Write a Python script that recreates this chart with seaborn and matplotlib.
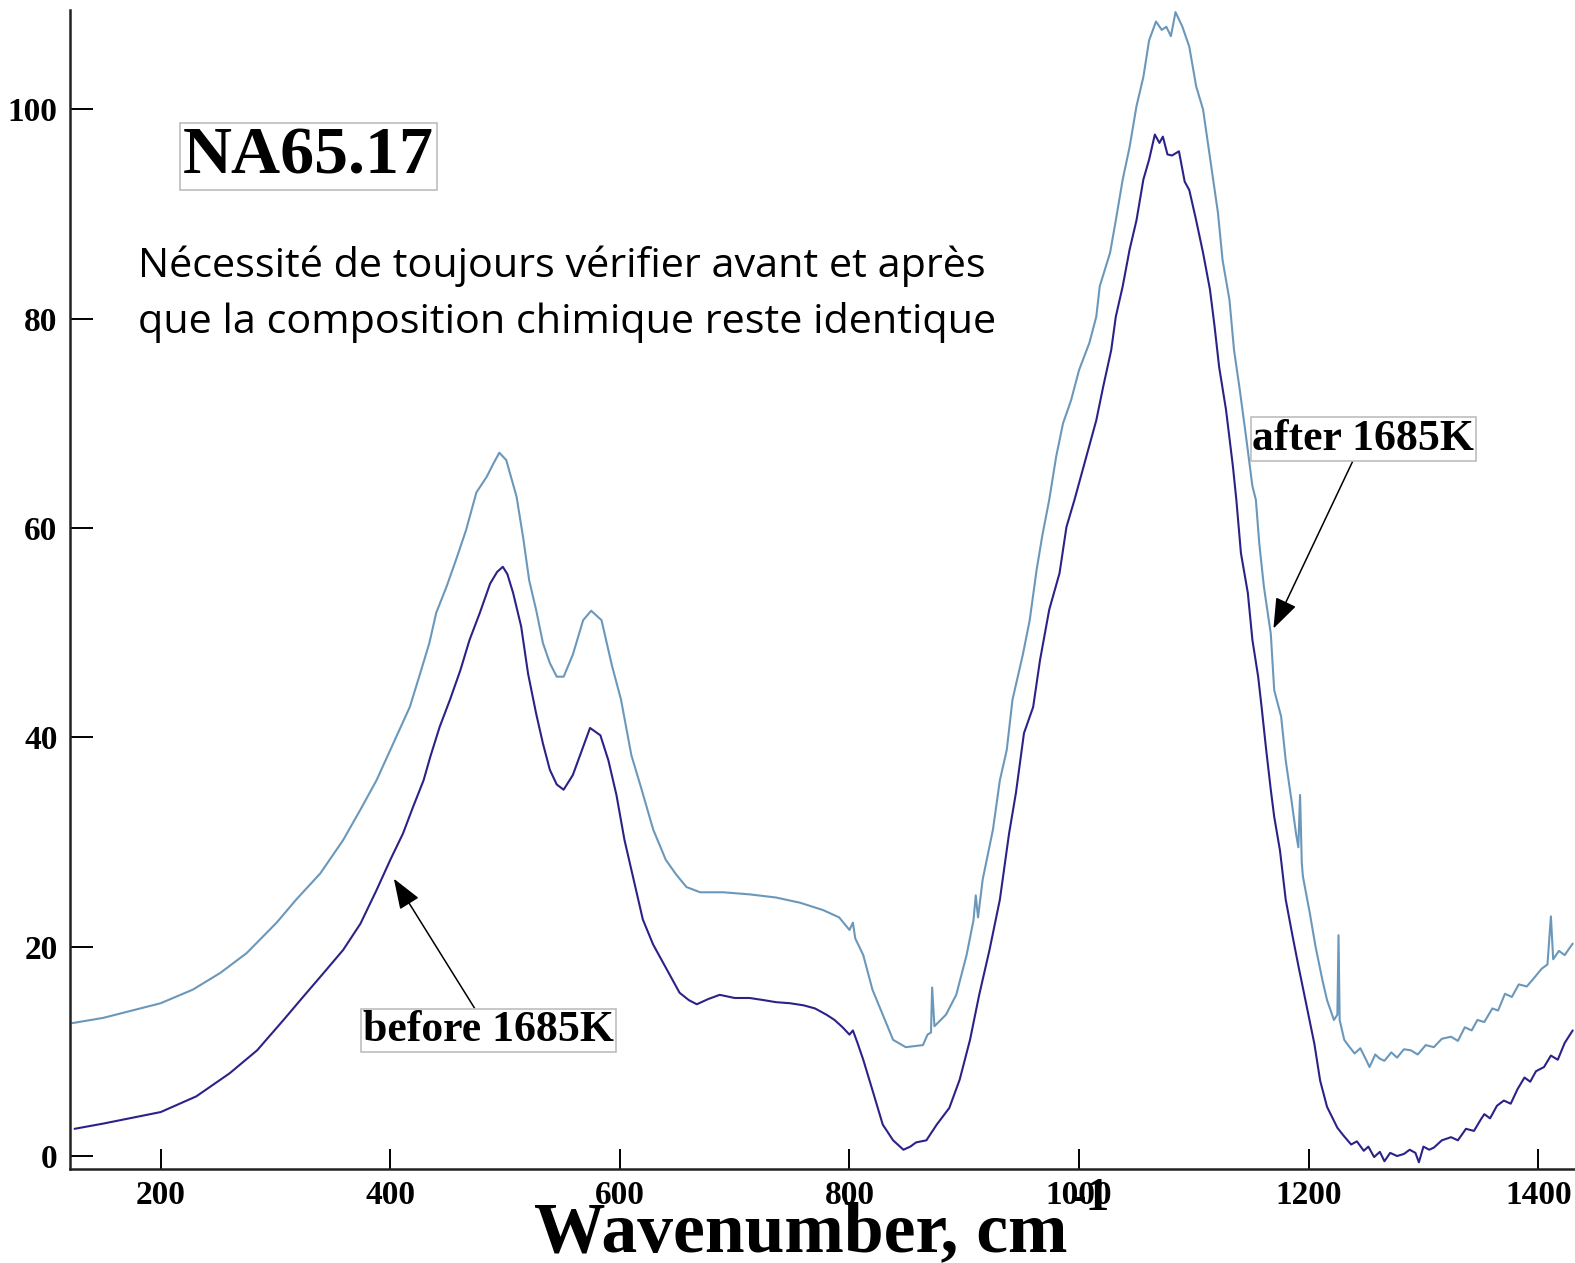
import numpy as np
import pandas as pd
import matplotlib
matplotlib.use("Agg")
import matplotlib.pyplot as plt
import seaborn as sns

# ---------------- data ----------------
wn_after = [123, 150, 200, 228, 252, 275, 301, 318, 339, 359, 374, 388, 405, 417, 426,
            434, 440, 449, 458, 466, 475, 484, 490, 495, 501, 510, 516, 521, 527, 533,
            539, 545, 551, 559, 568, 575, 584, 593, 601, 610, 619, 629, 640, 649, 658,
            670, 690, 713, 736, 757, 777, 791, 800, 803, 805, 812, 820, 829, 838, 849,
            864, 868, 871, 872, 874, 884, 893, 902, 908, 910, 912, 916, 925, 931, 937,
            942, 951, 957, 963, 968, 974, 980, 986, 993, 1000, 1009, 1015, 1018, 1027, 1032,
            1038, 1044, 1050, 1056, 1061, 1067, 1072, 1076, 1080, 1084, 1090, 1096, 1102, 1108, 1111,
            1116, 1121, 1125, 1131, 1135, 1140, 1145, 1151, 1154, 1157, 1161, 1167, 1170, 1176, 1180,
            1185, 1189, 1191, 1192.5, 1194, 1195, 1201, 1206, 1212, 1216, 1222, 1225, 1226, 1227, 1231,
            1235, 1240, 1245, 1250, 1253, 1258, 1262, 1266, 1272, 1277, 1283, 1289, 1295, 1302, 1309,
            1316, 1324, 1330, 1336, 1342, 1347, 1353, 1360, 1365, 1371, 1377, 1383, 1390, 1397, 1403,
            1408, 1411, 1413, 1418, 1423, 1430]
ab_after = [12.7, 13.2, 14.6, 15.9, 17.5, 19.4, 22.3, 24.5, 27.0, 30.2, 33.1, 35.9, 40.0, 42.9, 46.1,
            49.0, 51.9, 54.4, 57.2, 59.8, 63.4, 64.9, 66.2, 67.2, 66.5, 63.0, 58.9, 55.0, 52.2, 49.0,
            47.1, 45.8, 45.8, 47.9, 51.2, 52.1, 51.2, 46.9, 43.6, 38.3, 35.0, 31.2, 28.3, 26.9, 25.7,
            25.2, 25.2, 25.0, 24.7, 24.2, 23.5, 22.8, 21.6, 22.3, 20.8, 19.2, 15.9, 13.5, 11.1, 10.4,
            10.6, 11.6, 11.8, 16.1, 12.4, 13.5, 15.4, 19.2, 22.5, 24.9, 22.8, 26.4, 31.2, 35.9, 38.8,
            43.6, 47.9, 51.2, 56.0, 59.3, 62.7, 66.8, 70.0, 72.2, 75.1, 77.7, 80.2, 83.1, 86.3, 89.4,
            93.3, 96.4, 100.3, 103.1, 106.6, 108.4, 107.6, 107.9, 107.0, 109.3, 107.9, 106.0, 102.2, 100.0, 97.7,
            93.9, 90.1, 85.6, 81.8, 77.0, 73.2, 69.1, 64.0, 62.7, 58.5, 54.4, 49.9, 44.5, 42.0, 37.8,
            34.0, 30.8, 29.5, 34.5, 28.0, 26.7, 23.2, 20.0, 16.8, 14.9, 13.0, 13.5, 21.1, 13.0, 11.1,
            10.5, 9.8, 10.3, 9.2, 8.5, 9.7, 9.3, 9.1, 9.9, 9.4, 10.2, 10.1, 9.7, 10.6, 10.4,
            11.2, 11.4, 11.0, 12.3, 12.0, 13.0, 12.8, 14.1, 13.9, 15.5, 15.2, 16.4, 16.2, 17.1, 17.9,
            18.3, 22.9, 18.8, 19.6, 19.2, 20.3]

wn_before = [125, 150, 200, 231, 260, 284, 307, 324, 342, 359, 374, 388, 400, 411, 420,
             429, 435, 443, 452, 461, 469, 478, 487, 493, 498, 502, 507, 514, 520, 527,
             533, 539, 545, 551, 559, 567, 574, 583, 590, 597, 604, 612, 620, 629, 641,
             652, 660, 667, 677, 687, 700, 713, 725, 736, 748, 760, 770, 780, 787, 794,
             800, 803, 807, 812, 820, 829, 838, 847, 853, 858, 867, 876, 887, 896, 905,
             913, 922, 931, 939, 945, 952, 960, 966, 974, 983, 989, 996, 1008, 1015, 1021,
             1028, 1032, 1038, 1044, 1050, 1056, 1061, 1066, 1070, 1073, 1077, 1081, 1087, 1092, 1096,
             1102, 1108, 1114, 1118, 1122, 1128, 1134, 1137, 1141, 1147, 1151, 1156, 1159, 1163, 1167,
             1170, 1175, 1180, 1186, 1191, 1199, 1205, 1210, 1216, 1221, 1225, 1230, 1237, 1242, 1248,
             1252, 1257, 1262, 1266, 1271, 1277, 1283, 1288, 1293, 1296, 1300, 1305, 1309, 1316, 1324,
             1330, 1337, 1344, 1350, 1353, 1358, 1364, 1370, 1376, 1382, 1388, 1393, 1398, 1405, 1411,
             1417, 1423, 1430]
ab_before = [2.6, 3.1, 4.2, 5.7, 7.9, 10.1, 13.0, 15.2, 17.5, 19.7, 22.2, 25.4, 28.3, 30.8, 33.4,
             35.9, 38.2, 41.0, 43.6, 46.4, 49.3, 51.9, 54.7, 55.8, 56.3, 55.6, 53.8, 50.6, 46.1, 42.3,
             39.4, 36.9, 35.5, 35.0, 36.4, 38.8, 40.9, 40.2, 37.8, 34.5, 30.2, 26.4, 22.6, 20.2, 17.8,
             15.6, 14.9, 14.5, 15.0, 15.4, 15.1, 15.1, 14.9, 14.7, 14.6, 14.4, 14.1, 13.5, 13.0, 12.3,
             11.6, 12.0, 10.8, 9.2, 6.3, 3.0, 1.5, 0.6, 0.9, 1.3, 1.5, 3.0, 4.6, 7.3, 11.1,
             15.4, 19.7, 24.5, 30.8, 34.7, 40.4, 42.9, 47.4, 52.2, 55.7, 60.1, 62.7, 67.5, 70.3, 73.5,
             77.0, 80.2, 83.1, 86.6, 89.4, 93.3, 95.2, 97.6, 96.8, 97.4, 95.7, 95.6, 96.0, 93.1, 92.3,
             89.4, 86.3, 82.8, 79.3, 75.4, 71.3, 65.9, 62.7, 57.6, 53.8, 49.3, 45.8, 42.9, 38.8, 35.0,
             32.4, 29.2, 24.5, 21.0, 18.2, 13.9, 10.7, 7.2, 4.7, 3.6, 2.7, 2.0, 1.1, 1.4, 0.5,
             0.9, -0.1, 0.4, -0.5, 0.3, 0.0, 0.2, 0.6, 0.3, -0.6, 0.9, 0.6, 0.8, 1.5, 1.8,
             1.5, 2.6, 2.4, 3.5, 4.0, 3.6, 4.8, 5.3, 5.0, 6.4, 7.5, 7.1, 8.1, 8.5, 9.6,
             9.2, 10.8, 12.0]

x_ticks = [200, 400, 600, 800, 1000, 1200, 1400]
y_ticks = [0, 20, 40, 60, 80, 100]

sample_name = "NA65.17"
note_lines = ["Nécessité de toujours vérifier avant et après",
              "que la composition chimique reste identique"]
label_after = "after 1685K"
label_before = "before 1685K"
x_label = "Wavenumber, cm"
x_label_sup = "-1"

# ---------------- figure ----------------
sns.set_style("ticks")
plt.rcParams["font.family"] = ["Liberation Serif", "DejaVu Serif"]
plt.rcParams["text.color"] = "black"
plt.rcParams["axes.labelcolor"] = "black"
plt.rcParams["xtick.color"] = "black"
plt.rcParams["ytick.color"] = "black"

W, H = 1575, 1263
fig = plt.figure(figsize=(W / 100, H / 100), dpi=100)
ax = fig.add_axes([70 / W, (H - 1169) / H, (W - 70) / W, (1169 - 10) / H])

df_a = pd.DataFrame({"wn": wn_after, "ab": ab_after})
df_b = pd.DataFrame({"wn": wn_before, "ab": ab_before})
sns.lineplot(data=df_a, x="wn", y="ab", ax=ax, color="#6b98ba", lw=1.5,
             sort=False, estimator=None)
sns.lineplot(data=df_b, x="wn", y="ab", ax=ax, color="#2b2288", lw=1.5,
             sort=False, estimator=None)

ax.set_xlim(121, 1432)
ax.set_ylim(-1.24, 109.5)
ax.set_xticks(x_ticks)
ax.set_yticks(y_ticks)
ax.set_xlabel("")
ax.set_ylabel("")
for s in ["top", "right"]:
    ax.spines[s].set_visible(False)
for s in ["left", "bottom"]:
    ax.spines[s].set_linewidth(1.8)
    ax.spines[s].set_color("#222222")
ax.tick_params(axis="y", direction="in", length=16.5, width=1.4, pad=9,
               labelsize=24, colors="black")
ax.tick_params(axis="x", direction="in", length=14.5, width=1.4, pad=8,
               labelsize=24, colors="black")
for lab in ax.get_xticklabels() + ax.get_yticklabels():
    lab.set_fontweight("bold")

# x label with superscript
fig.text(801 / W, 1 - 1251 / H, x_label, ha="center", va="baseline",
         fontsize=51.5, fontweight="bold")
fig.text(1090 / W, 1 - 1199 / H, x_label_sup, ha="center", va="center",
         fontsize=34, fontweight="bold")

# sample name in a box
fig.text(183 / W, 1 - 173 / H, sample_name, ha="left", va="baseline",
         fontsize=49, fontweight="bold",
         bbox=dict(boxstyle="square,pad=0.04", fc="white", ec="#bdbdbd", lw=1.2))

# French note
note_font = ["Open Sans", "DejaVu Sans"]
fig.text(138 / W, 1 - 277 / H, note_lines[0], ha="left", va="baseline",
         fontsize=29.8, family=note_font, color="black")
fig.text(138 / W, 1 - 333 / H, note_lines[1], ha="left", va="baseline",
         fontsize=29.8, family=note_font, color="black")

# annotations
box_kw = dict(boxstyle="square,pad=0.04", fc="white", ec="#bdbdbd", lw=1.2)
arrow_kw = dict(arrowstyle="-|>,head_length=0.6,head_width=0.22", color="black",
                lw=1.1, shrinkA=0, shrinkB=0)
ax.annotate(label_after, xy=(1169.3, 50.4), xytext=(1247.5, 68.5),
            textcoords="data", ha="center", va="center", fontsize=31.5,
            fontweight="bold", bbox=box_kw, arrowprops=arrow_kw)
ax.annotate(label_before, xy=(403.1, 26.5), xytext=(485.5, 12.0),
            textcoords="data", ha="center", va="center", fontsize=31.5,
            fontweight="bold", bbox=box_kw, arrowprops=arrow_kw)

fig.savefig("out.png", dpi=100, facecolor="white")
